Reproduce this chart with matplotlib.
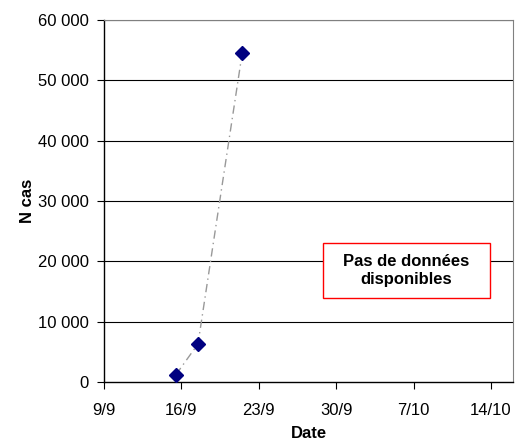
import matplotlib
matplotlib.use('Agg')
import matplotlib.pyplot as plt
from matplotlib.patches import Rectangle

# day numbers counted from 1 September
days = [15.5, 17.5, 21.5]
cases = [1200, 6300, 54500]
tick_days = [9, 16, 23, 30, 37, 44]
tick_labels = ['9/9', '16/9', '23/9', '30/9', '7/10', '14/10']
y_ticks = [0, 10000, 20000, 30000, 40000, 50000, 60000]
y_labels = ['0', '10 000', '20 000', '30 000', '40 000', '50 000', '60 000']

plt.rcParams['font.family'] = ['Liberation Sans', 'DejaVu Sans']

fig = plt.figure(figsize=(5.28, 4.4), dpi=100)
ax = fig.add_axes([0.197, 0.1318, 0.7746, 0.8227])

for y in y_ticks[1:]:
    ax.axhline(y, color='black', lw=0.8, zorder=1)

ax.plot(days, cases, color='#999999', lw=1, linestyle=(0, (6, 3, 1, 3)), zorder=2)
ax.plot(days, cases, linestyle='none', marker='D', markersize=7,
        color='#000080', zorder=3)

ax.set_xlim(9, 46)
ax.set_ylim(0, 60000)
ax.set_xticks(tick_days)
ax.set_xticklabels(tick_labels)
ax.set_yticks(y_ticks)
ax.set_yticklabels(y_labels)
ax.tick_params(labelsize=12, direction='out', length=5, width=0.8, color='black')
ax.tick_params(axis='x', pad=10)
ax.tick_params(axis='y', pad=6)

ax.spines['top'].set_color('#808080')
ax.spines['right'].set_color('#808080')
ax.spines['left'].set_linewidth(1)
ax.spines['bottom'].set_linewidth(1)

ax.set_xlabel('Date', fontsize=12, fontweight='bold', labelpad=6)
ax.set_ylabel('N cas', fontsize=12, fontweight='bold', labelpad=2)

# note box
ax.add_patch(Rectangle((0.5347, 0.2312), 0.4091, 0.1519, transform=ax.transAxes,
                       fc='white', ec='red', lw=1, zorder=4))
ax.text(0.739, 0.307, 'Pas de données\ndisponibles', transform=ax.transAxes,
        ha='center', va='center', fontsize=12, fontweight='bold',
        linespacing=1.25, zorder=5)

fig.savefig('out.png', dpi=100)
